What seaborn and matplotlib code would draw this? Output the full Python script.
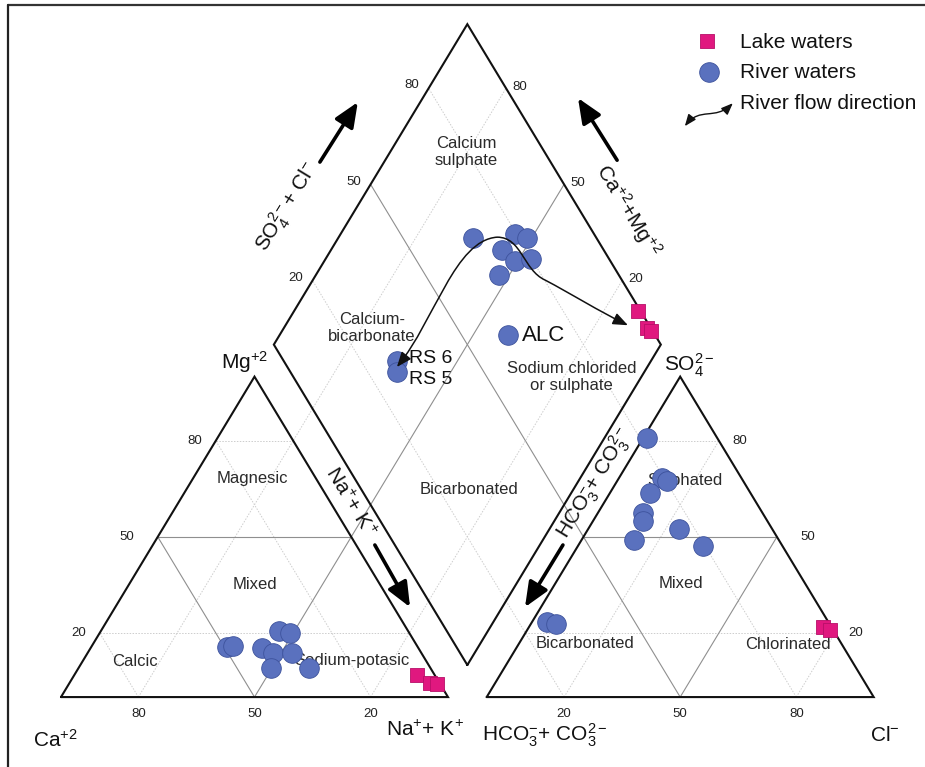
import numpy as np
import pandas as pd
import matplotlib
matplotlib.use("Agg")
import matplotlib.pyplot as plt
import seaborn as sns
from matplotlib.patches import FancyArrowPatch
from matplotlib.path import Path
from matplotlib.lines import Line2D

sns.set_style("white")
plt.rcParams["font.family"] = ["Liberation Sans", "DejaVu Sans"]
plt.rcParams["mathtext.fontset"] = "custom"
plt.rcParams["mathtext.rm"] = "Liberation Sans"
plt.rcParams["mathtext.it"] = "Liberation Sans:italic"
plt.rcParams["mathtext.bf"] = "Liberation Sans:bold"

# cation triangle, % meq (Ca is the rest)
river_mg = [15.7, 16.0, 15.4, 13.8, 9.1, 20.7, 20.1, 13.8, 9.1]
river_na = [35.0, 36.4, 44.2, 47.9, 49.7, 46.0, 49.1, 52.8, 59.5]
lake_mg = [6.9, 4.4, 4.1]
lake_na = [88.5, 93.1, 95.2]

# anion triangle, % meq (HCO3 + CO3 is the rest)
river_so4 = [81.0, 68.4, 67.5, 63.7, 57.4, 54.9, 52.4, 48.9, 47.1, 23.5, 22.9]
river_cl = [0.9, 11.1, 12.9, 10.3, 11.7, 13.0, 23.5, 13.6, 32.3, 3.8, 6.4]
lake_so4 = [22.0, 21.0]
lake_cl = [75.9, 78.2]

# diamond: Na+K and SO4+Cl
diam_na = [34.8, 45.1, 48.7, 44.2, 49.2, 53.1, 47.4, 59.1, 34.4, 36.0]
diam_s = [68.2, 79.5, 82.1, 73.8, 75.4, 79.7, 69.0, 62.0, 29.2, 27.6]
diam_names = ["", "", "", "", "", "", "", "ALC", "RS 6", "RS 5"]
lake_diam_na = [88.9, 93.8, 95.4]
lake_diam_s = [99.3, 99.0, 99.6]

grid_levels = [20, 50, 80]

# river flow path (diamond, drawing units), cubic bezier
flow_path = [(86.8, 89.2), (96.6, 101.9), (101.8, 123.5), (112.7, 124.3),
             (119.1, 124.3), (119.4, 115.4), (125.1, 112.7),
             (131.5, 109.2), (139.3, 104.1), (146.5, 100.5)]

GAP = 10
H = np.sqrt(3) / 2


def cation_xy(mg, na):
    mg, na = np.asarray(mg, float), np.asarray(na, float)
    return na + 0.5 * mg, H * mg


def anion_xy(so4, cl):
    so4, cl = np.asarray(so4, float), np.asarray(cl, float)
    return 100 + GAP + cl + 0.5 * so4, H * so4


def diamond_xy(na, s):
    na, s = np.asarray(na, float), np.asarray(s, float)
    c = 100 - na
    return 100 + GAP / 2 + 0.5 * (s - c), H * (GAP + s + c)


def seg(ax, p, q, **kw):
    ax.plot([p[0], q[0]], [p[1], q[1]], **kw)


fig = plt.figure(figsize=(9.25, 7.67), dpi=100)
ax = fig.add_axes([0, 0, 1, 1])

# grid lines (20/80 dotted, 50 solid), extended through the diamond
for v in grid_levels:
    if v == 50:
        st = dict(color="#8f8f8f", lw=0.8, ls="-", zorder=1)
    else:
        st = dict(color="#cdcdcd", lw=0.7, ls=(0, (1.5, 1.5)), zorder=1)
    seg(ax, cation_xy(v, 0), cation_xy(v, 100 - v), **st)
    seg(ax, cation_xy(0, 100 - v), cation_xy(100 - v, 0), **st)
    seg(ax, cation_xy(0, v), diamond_xy(v, 100), **st)
    seg(ax, anion_xy(v, 0), anion_xy(v, 100 - v), **st)
    seg(ax, anion_xy(0, v), anion_xy(100 - v, v), **st)
    seg(ax, anion_xy(0, 100 - v), diamond_xy(0, 100 - v), **st)

# outlines
out = dict(color="#111111", lw=1.5, zorder=3, solid_joinstyle="miter")
for shape in ([cation_xy(0, 0), cation_xy(0, 100), cation_xy(100, 0), cation_xy(0, 0)],
              [anion_xy(0, 0), anion_xy(0, 100), anion_xy(100, 0), anion_xy(0, 0)],
              [diamond_xy(100, 0), diamond_xy(0, 0), diamond_xy(0, 100),
               diamond_xy(100, 100), diamond_xy(100, 0)]):
    xs, ys = zip(*shape)
    ax.plot(xs, ys, **out)

# tick labels
tk = dict(ha="center", va="center", fontsize=9.5, color="#222222",
          textcoords="offset points", zorder=4)
for v in grid_levels:
    side = 22 if v == 50 else 15
    ax.annotate(str(v), cation_xy(v, 0), xytext=(-side, 0), **tk)
    ax.annotate(str(v), cation_xy(0, 100 - v), xytext=(0, -12), **tk)
    ax.annotate(str(v), anion_xy(v, 100 - v), xytext=(side, 0), **tk)
    ax.annotate(str(v), anion_xy(0, v), xytext=(0, -12), **tk)
    ax.annotate(str(v), diamond_xy(0, v), xytext=(-12, 2), **tk)
    ax.annotate(str(v), diamond_xy(100 - v, 100), xytext=(10, 1), **tk)

# region names
rg = dict(ha="center", va="center", fontsize=12, color="#2a2a2a",
          linespacing=1.2, zorder=4)
ax.text(49.4, 59.2, "Magnesic", **rg)
ax.text(50.1, 30.3, "Mixed", **rg)
ax.text(19.1, 9.5, "Calcic", **rg)
ax.text(75.2, 10.0, "Sodium-potasic", **rg)
ax.text(161.2, 58.6, "Sulphated", **rg)
ax.text(160.2, 30.8, "Mixed", **rg)
ax.text(135.4, 14.6, "Bicarbonated", **rg)
ax.text(187.9, 14.1, "Chlorinated", **rg)
ax.text(104.7, 147.3, "Calcium\nsulphate", **rg)
ax.text(80.4, 99.7, "Calcium-\nbicarbonate", **rg)
ax.text(132.0, 86.5, "Sodium chlorided\nor sulphate", **rg)
ax.text(105.4, 56.2, "Bicarbonated", **rg)

# vertex and axis names
vx = dict(ha="center", va="center", fontsize=15, color="#111111")
ax.text(47.5, 90.5, r"Mg$^{+2}$", **vx)
ax.text(-1.5, -11.6, r"Ca$^{+2}$", **vx)
ax.text(94.1, -8.9, r"Na$^{+}$+ K$^{+}$", **vx)
ax.text(125.1, -10.3, r"HCO$_3^{-}$+ CO$_3^{2-}$", **vx)
ax.text(212.9, -10.3, r"Cl$^{-}$", **vx)
ax.text(162.5, 89.7, r"SO$_4^{2-}$", **vx)
ax.text(58.4, 132.4, r"SO$_4^{2-}$+ Cl$^{-}$", rotation=58.6, **vx)
ax.text(146.5, 131.6, r"Ca$^{+2}$+Mg$^{+2}$", rotation=-58.6, **vx)
ax.text(74.7, 52.7, r"Na$^{+}$+ K$^{+}$", rotation=-58.6, **vx)
ax.text(138.0, 57.8, r"HCO$_3^{-}$+ CO$_3^{2-}$", rotation=58.6, **vx)

big = dict(arrowstyle="-|>,head_length=0.75,head_width=0.32", mutation_scale=20,
           lw=2.6, color="black", shrinkA=0, shrinkB=0, zorder=4)
ax.add_patch(FancyArrowPatch((66.9, 144.6), (76.7, 160.8), **big))
ax.add_patch(FancyArrowPatch((143.7, 145.1), (133.6, 161.9), **big))
ax.add_patch(FancyArrowPatch((81.1, 41.1), (90.2, 24.3), **big))
ax.add_patch(FancyArrowPatch((129.7, 41.1), (119.9, 24.3), **big))

# data points
rx = np.concatenate([cation_xy(river_mg, river_na)[0], anion_xy(river_so4, river_cl)[0],
                     diamond_xy(diam_na, diam_s)[0]])
ry = np.concatenate([cation_xy(river_mg, river_na)[1], anion_xy(river_so4, river_cl)[1],
                     diamond_xy(diam_na, diam_s)[1]])
lx = np.concatenate([cation_xy(lake_mg, lake_na)[0], anion_xy(lake_so4, lake_cl)[0],
                     diamond_xy(lake_diam_na, lake_diam_s)[0]])
ly = np.concatenate([cation_xy(lake_mg, lake_na)[1], anion_xy(lake_so4, lake_cl)[1],
                     diamond_xy(lake_diam_na, lake_diam_s)[1]])
river = pd.DataFrame({"x": rx, "y": ry})
lake = pd.DataFrame({"x": lx, "y": ly})

sns.scatterplot(data=river, x="x", y="y", marker="o", s=200, color="#5a71be",
                edgecolor="#3d529c", linewidth=0.6, zorder=5, ax=ax, legend=False)
sns.scatterplot(data=lake, x="x", y="y", marker="s", s=105, color="#e0187f",
                edgecolor="#b70f68", linewidth=0.6, zorder=6, ax=ax, legend=False)

dx, dy = diamond_xy(diam_na, diam_s)
offsets = {"ALC": (10, 0), "RS 6": (9, 2), "RS 5": (9, -6)}
for name, x, y in zip(diam_names, dx, dy):
    if name:
        ax.annotate(name, (x, y), xytext=offsets[name], textcoords="offset points",
                    ha="left", va="center", fontsize=16 if name == "ALC" else 14,
                    color="#111111", zorder=7)

# river flow direction
codes = [Path.MOVETO] + [Path.CURVE4] * (len(flow_path) - 1)
flow = FancyArrowPatch(path=Path(flow_path, codes),
                       arrowstyle="<|-|>,head_length=0.45,head_width=0.18",
                       mutation_scale=20, lw=1.1, color="#111111", zorder=8)
ax.add_patch(flow)

# legend
ax.scatter([166.9], [177.3], marker="s", s=105, color="#e0187f", edgecolor="#b70f68", lw=0.6)
ax.scatter([167.4], [168.9], marker="o", s=200, color="#5a71be", edgecolor="#3d529c", lw=0.6)
leg_path = [(161.2, 154.3), (165.1, 159.6), (169.0, 155.8), (173.6, 160.5)]
ax.add_patch(FancyArrowPatch(path=Path(leg_path, [Path.MOVETO] + [Path.CURVE4] * 3),
                             arrowstyle="<|-|>,head_length=0.35,head_width=0.14",
                             mutation_scale=20, lw=1.0, color="#111111"))
lg = dict(ha="left", va="center", fontsize=15, color="#111111")
ax.text(175.5, 177.0, "Lake waters", **lg)
ax.text(175.5, 168.9, "River waters", **lg)
ax.text(175.5, 160.5, "River flow direction", **lg)

ax.set_xlim(-15.76, 223.26)
ax.set_ylim(-18.9, 188.4)
ax.axis("off")

# frame lines at top and left
fig.add_artist(Line2D([8 / 925, 1], [1 - 5 / 767, 1 - 5 / 767], color="#333333", lw=1.6))
fig.add_artist(Line2D([8 / 925, 8 / 925], [0, 1 - 5 / 767], color="#222222", lw=1.6))

fig.savefig("out.png", dpi=100)
